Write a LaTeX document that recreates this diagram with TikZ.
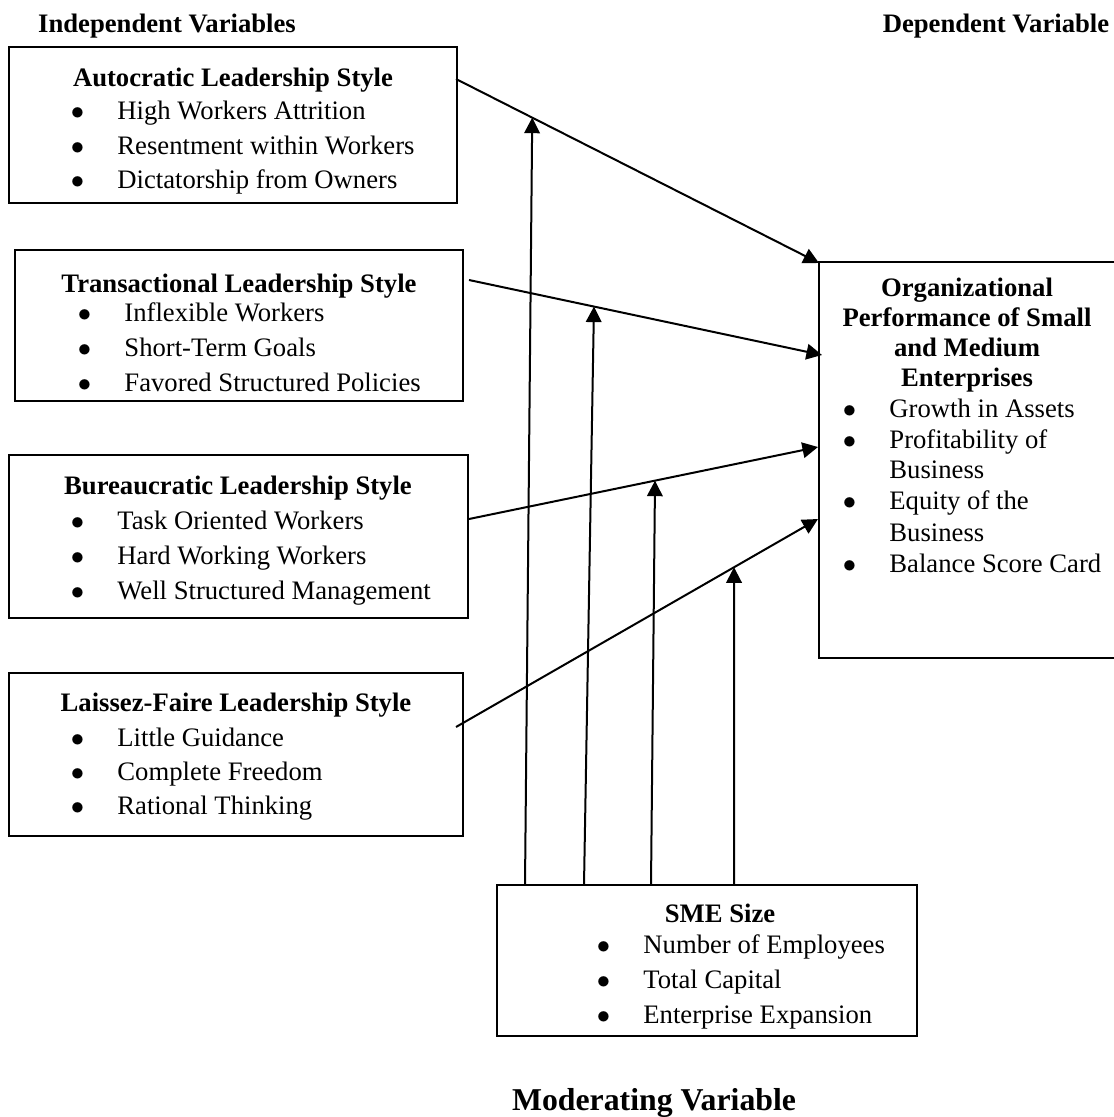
\documentclass[tikz,border=0pt]{standalone}
\usepackage{fontspec}
\setmainfont{Liberation Serif}
\usetikzlibrary{arrows.meta,fit}

\tikzset {
    vbox/.style={rectangle, draw=black, line width=0.9pt, inner sep=0pt},
    bhead/.style={anchor=base, inner sep=0pt, font=\fontsize{12}{14}\selectfont\bfseries},
    bitem/.style={anchor=base west, inner sep=0pt, font=\fontsize{12}{14}\selectfont,
        execute at begin node={\llap{$\bullet$\hspace{15pt}}}},
    bcont/.style={anchor=base west, inner sep=0pt, font=\fontsize{12}{14}\selectfont},
    flow/.style={->, >={Triangle[length=7pt, width=7pt]}, line width=0.9pt},
}

\begin{document}
\begin{tikzpicture}[x=0.45pt, y=-0.45pt]
    \useasboundingbox (0, 0) rectangle (1114, 1117);

    % headings
    \node (indep) at (167, 32) [bhead] {Independent Variables};
    \node (dep) at (996, 32) [bhead] {Dependent Variable};
    \node (moder) at (654, 1110) [bhead, font=\fontsize{14.3}{17}\selectfont\bfseries] {Moderating Variable};

    % independent variables
    \node (auto) [vbox, fit={(9, 47) (457, 203)}] {};
    \node (auto0) at (233, 86) [bhead] {Autocratic Leadership Style};
    \node (auto1) at (117, 119) [bitem] {High Workers Attrition};
    \node (auto2) at (117, 154) [bitem] {Resentment within Workers};
    \node (auto3) at (117, 188) [bitem] {Dictatorship from Owners};

    \node (trans) [vbox, fit={(15, 250) (463, 401)}] {};
    \node (trans0) at (239, 292) [bhead] {Transactional Leadership Style};
    \node (trans1) at (124, 321) [bitem] {Inflexible Workers};
    \node (trans2) at (124, 356) [bitem] {Short-Term Goals};
    \node (trans3) at (124, 391) [bitem] {Favored Structured Policies};

    \node (bur) [vbox, fit={(9, 455) (468, 618)}] {};
    \node (bur0) at (238, 494) [bhead] {Bureaucratic Leadership Style};
    \node (bur1) at (117, 529) [bitem] {Task Oriented Workers};
    \node (bur2) at (117, 564) [bitem] {Hard Working Workers};
    \node (bur3) at (117, 599) [bitem] {Well Structured Management};

    \node (lais) [vbox, fit={(9, 673) (463, 836)}] {};
    \node (lais0) at (236, 711) [bhead] {Laissez-Faire Leadership Style};
    \node (lais1) at (117, 746) [bitem] {Little Guidance};
    \node (lais2) at (117, 780) [bitem] {Complete Freedom};
    \node (lais3) at (117, 814) [bitem] {Rational Thinking};

    % dependent variable
    \node (perf) [vbox, fit={(819, 262) (1118, 658)}] {};
    \node (perf0) at (967, 296) [bhead] {Organizational};
    \node (perf1) at (967, 326) [bhead] {Performance of Small};
    \node (perf2) at (967, 356) [bhead] {and Medium};
    \node (perf3) at (967, 386) [bhead] {Enterprises};
    \node (perf4) at (889, 417) [bitem] {Growth in Assets};
    \node (perf5) at (889, 448) [bitem] {Profitability of};
    \node (perf6) at (889, 478) [bcont] {Business};
    \node (perf7) at (889, 509) [bitem] {Equity of the};
    \node (perf8) at (889, 541) [bcont] {Business};
    \node (perf9) at (889, 572) [bitem] {Balance Score Card};

    % moderating variable
    \node (sme) [vbox, fit={(497, 885) (917, 1036)}] {};
    \node (sme0) at (720, 922) [bhead] {SME Size};
    \node (sme1) at (643, 953) [bitem] {Number of Employees};
    \node (sme2) at (643, 988) [bitem] {Total Capital};
    \node (sme3) at (643, 1023) [bitem] {Enterprise Expansion};

    % connector ends
    \coordinate (auto-e) at (456, 79);
    \coordinate (trans-e) at (469, 280);
    \coordinate (bur-e) at (469, 519);
    \coordinate (lais-e) at (456, 727);
    \coordinate (perf-a) at (819, 263);
    \coordinate (perf-b) at (822, 355);
    \coordinate (perf-c) at (818, 447);
    \coordinate (perf-d) at (818, 519);
    \coordinate (sme-a) at (525, 885);
    \coordinate (sme-b) at (584, 885);
    \coordinate (sme-c) at (651, 885);
    \coordinate (sme-d) at (734, 885);

    \draw [flow] (auto-e) -- coordinate[pos=.21] (mod1) (perf-a);
    \draw [flow] (trans-e) -- coordinate[pos=.354] (mod2) (perf-b);
    \draw [flow] (bur-e) -- coordinate[pos=.533] (mod3) (perf-c);
    \draw [flow] (lais-e) -- coordinate[pos=.768] (mod4) (perf-d);

    \draw [flow] (sme-a) -- (mod1);
    \draw [flow] (sme-b) -- (mod2);
    \draw [flow] (sme-c) -- (mod3);
    \draw [flow] (sme-d) -- (mod4);
\end{tikzpicture}
\end{document}
